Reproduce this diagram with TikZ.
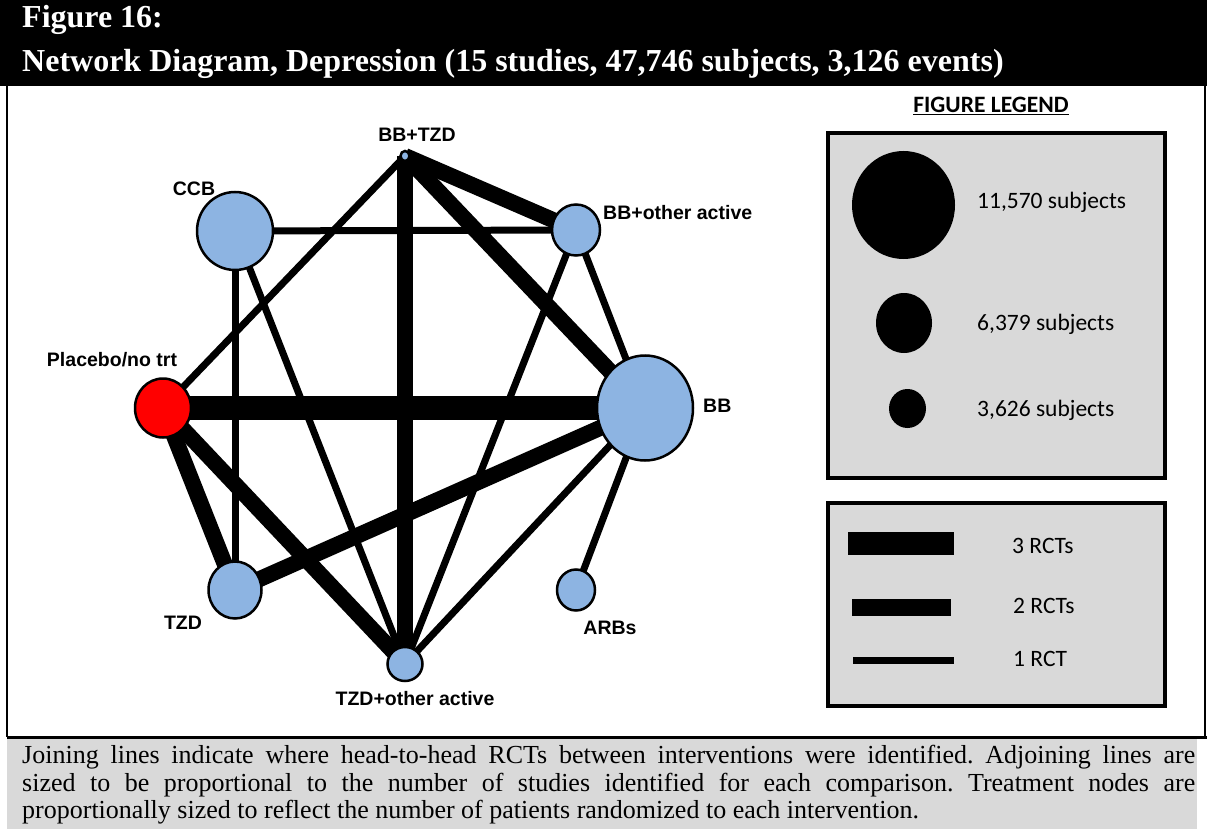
\documentclass[tikz,border=0pt]{standalone}
\usepackage{fontspec}
\setmainfont{Liberation Serif}
\newfontfamily\lblfont{Liberation Sans}
\newfontfamily\legfont{Carlito}
\usetikzlibrary{shapes.geometric, backgrounds, positioning}
\definecolor{trtblue}{RGB}{141,180,226}
\definecolor{placebored}{RGB}{255,0,0}
\definecolor{leggray}{RGB}{217,217,217}

\begin{document}
\begin{tikzpicture}[x=1pt, y=-1pt,
        trt/.style={ellipse, draw=black, line width=2.5pt, fill=trtblue, inner sep=0pt},
        lbl/.style={inner sep=0pt, font=\lblfont\bfseries\fontsize{19.5}{22}\selectfont},
        legtxt/.style={inner sep=0pt, anchor=base west, font=\legfont\fontsize{23.5}{27}\selectfont},
        legdot/.style={ellipse, fill=black, inner sep=0pt},
        legbox/.style={draw=black, line width=3.5pt, fill=leggray},
        rct1/.style={line width=7pt},
        rct2/.style={line width=16pt},
        rct3/.style={line width=24pt}
    ]
        \useasboundingbox (0,0) rectangle (1207,829);

        % title bar and frame
        \fill[black] (0,0) rectangle (1207,86);
        \node[anchor=base west, inner sep=0pt, text=white, font=\bfseries\fontsize{32}{38}\selectfont] (title1) at (22,28) {Figure 16:};
        \node[anchor=base west, inner sep=0pt, text=white, font=\bfseries\fontsize{32}{38}\selectfont] (title2) at (22,72) {Network Diagram, Depression (15 studies, 47,746 subjects, 3,126 events)};
        \draw[line width=2pt] (7,86) -- (7,737);
        \draw[line width=2pt] (1205,86) -- (1205,737);

        % treatment nodes
        \node[trt, minimum width=9pt, minimum height=10pt] (bbtzd) at (405,156) {};
        \node[trt, minimum width=76pt, minimum height=78pt] (ccb) at (235,231) {};
        \node[trt, minimum width=48pt, minimum height=51pt] (bbother) at (576,230) {};
        \node[trt, fill=placebored, minimum width=56pt, minimum height=59pt] (placebo) at (163,408) {};
        \node[trt, minimum width=96pt, minimum height=105pt] (bb) at (645,408) {};
        \node[trt, minimum width=53pt, minimum height=57pt] (tzd) at (235,590) {};
        \node[trt, minimum width=38pt, minimum height=41pt] (arbs) at (576,590) {};
        \node[trt, minimum width=35pt, minimum height=34pt] (tzdother) at (405,664) {};

        \node[lbl] (bbtzdlbl) at (417,135) {BB+TZD};
        \node[lbl] (ccblbl) at (194,189) {CCB};
        \node[lbl, anchor=west] (bbotherlbl) at (603,213) {BB+other active};
        \node[lbl] (placebolbl) at (112,360) {Placebo/no trt};
        \node[lbl, anchor=west] (bblbl) at (703,406) {BB};
        \node[lbl] (tzdlbl) at (183,623) {TZD};
        \node[lbl] (arbslbl) at (610,628) {ARBs};
        \node[lbl] (tzdotherlbl) at (415,699) {TZD+other active};

        \begin{scope}[on background layer]
            \draw[rct1] (ccb.center) -- (bbother.center);
            \draw[rct1] (ccb.center) -- (tzd.center);
            \draw[rct1] (ccb.center) -- (tzdother.center);
            \draw[rct1] (bbtzd.center) -- (placebo.center);
            \draw[rct2] (bbtzd.center) -- (tzdother.center);
            \draw[rct2] (bbtzd.center) -- (bbother.center);
            \draw[rct2] (bbtzd.center) -- (bb.center);
            \draw[rct1] (bbother.center) -- (bb.center);
            \draw[rct1] (bbother.center) -- (tzdother.center);
            \draw[rct3] (placebo.center) -- (bb.center);
            \draw[rct2] (placebo.center) -- (tzd.center);
            \draw[rct2] (placebo.center) -- (tzdother.center);
            \draw[rct2] (bb.center) -- (tzd.center);
            \draw[rct1] (bb.center) -- (tzdother.center);
            \draw[rct1] (bb.center) -- (arbs.center);
        \end{scope}

        % legend
        \node[inner sep=0pt, anchor=base, font=\legfont\bfseries\fontsize{23.5}{27}\selectfont] (legtitle) at (991,113) {\underline{FIGURE LEGEND}};
        \draw[legbox] (828,133) rectangle (1165,478);
        \node[legdot, minimum width=103pt, minimum height=108pt] (legbig) at (903.5,205) {};
        \node[legdot, minimum width=56pt, minimum height=60pt] (legmid) at (904,323) {};
        \node[legdot, minimum width=37pt, minimum height=39pt] (legsmall) at (907.5,408.5) {};
        \node[legtxt] (legbigtxt) at (977,208) {11,570 subjects};
        \node[legtxt] (legmidtxt) at (977,330) {6,379 subjects};
        \node[legtxt] (legsmalltxt) at (977,416) {3,626 subjects};

        \draw[legbox] (828,503) rectangle (1165,706);
        \fill[black] (848,532) rectangle (954,555);
        \fill[black] (852,599) rectangle (951,616);
        \fill[black] (853,657) rectangle (954,664);
        \node[legtxt] (rct3txt) at (1012,553) {3 RCTs};
        \node[legtxt] (rct2txt) at (1013,613) {2 RCTs};
        \node[legtxt] (rct1txt) at (1013,666) {1 RCT};

        % caption
        \fill[leggray] (7,739) rectangle (1197,829);
        \draw[line width=3pt] (7,737.5) -- (1207,737.5);
        \node[anchor=north west, inner sep=0pt, text width=1173pt, align=justify, font=\frenchspacing\fontsize{26}{27.5}\selectfont] (caption) at (22,745) {Joining lines indicate where head-to-head RCTs between interventions were identified. Adjoining lines are\linebreak sized to be proportional to the number of studies identified for each comparison. Treatment nodes are\linebreak proportionally sized to reflect the number of patients randomized to each intervention.};
    \end{tikzpicture}
\end{document}
